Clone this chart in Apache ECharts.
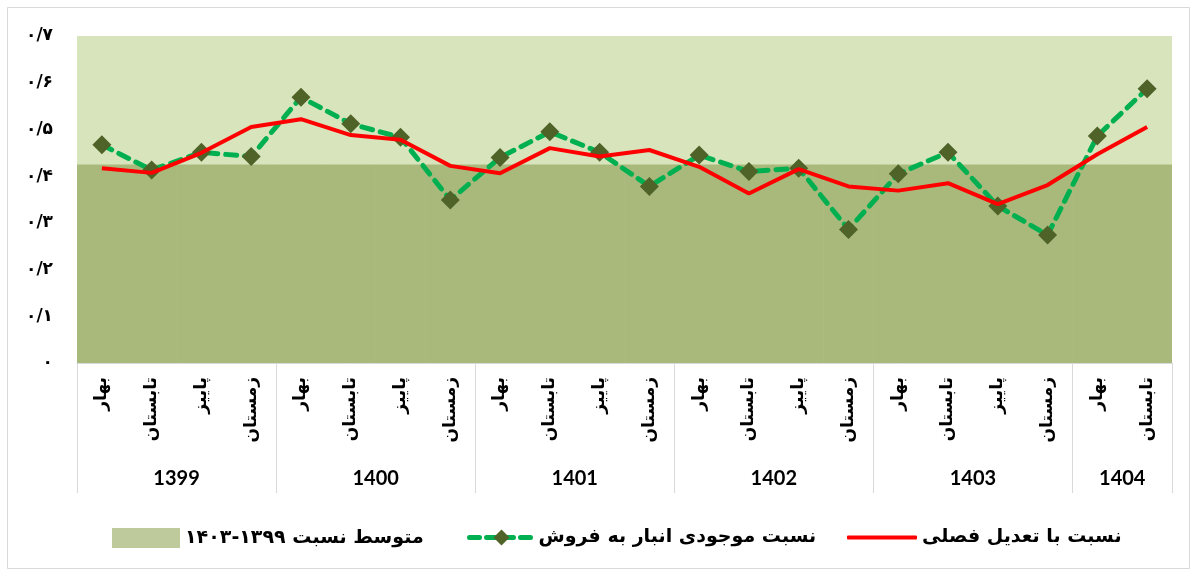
<!DOCTYPE html>
<html>
<head>
<meta charset="utf-8">
<script src="https://cdn.jsdelivr.net/npm/echarts@6/dist/echarts.min.js"></script>
<style>
  html, body { margin: 0; padding: 0; background: #fff; }
  #main { width: 1198px; height: 576px; }
</style>
</head>
<body>
<div id="main"></div>
<script>
// seasons (x axis, level 1) and years (level 2)
var seasons = [
  "بهار", "تابستان", "پاییز", "زمستان",
  "بهار", "تابستان", "پاییز", "زمستان",
  "بهار", "تابستان", "پاییز", "زمستان",
  "بهار", "تابستان", "پاییز", "زمستان",
  "بهار", "تابستان", "پاییز", "زمستان",
  "بهار", "تابستان"
];
var years = ["1399", "1400", "1401", "1402", "1403", "1404"];
var seasonsPerYear = [4, 4, 4, 4, 4, 2];

// نسبت موجودی انبار به فروش
var inventoryRatio = [
  0.467, 0.413, 0.451, 0.442,
  0.569, 0.512, 0.483, 0.349,
  0.440, 0.495, 0.451, 0.378,
  0.445, 0.410, 0.417, 0.286,
  0.405, 0.451, 0.336, 0.274,
  0.486, 0.587
];
// نسبت با تعدیل فصلی
var adjustedRatio = [
  0.417, 0.407, 0.450, 0.505,
  0.522, 0.488, 0.478, 0.422,
  0.406, 0.460, 0.442, 0.456,
  0.420, 0.363, 0.415, 0.378,
  0.369, 0.385, 0.340, 0.381,
  0.447, 0.505
];
// متوسط نسبت ۱۳۹۹-۱۴۰۳
var averageRatio = [
  0.425, 0.425, 0.425, 0.425,
  0.425, 0.425, 0.425, 0.425,
  0.425, 0.425, 0.425, 0.425,
  0.425, 0.425, 0.425, 0.425,
  0.425, 0.425, 0.425, 0.425,
  0.425, 0.425
];
var yTickLabels = ["۰", "۰/۱", "۰/۲", "۰/۳", "۰/۴", "۰/۵", "۰/۶", "۰/۷"];

var nameAvg = "متوسط نسبت ۱۳۹۹-۱۴۰۳";
var nameInv = "نسبت موجودی انبار به فروش";
var nameAdj = "نسبت با تعدیل فصلی";

// year group boundaries and centres on a 0..n value scale
var yearEdges = [0];
var yearCenters = [];
seasonsPerYear.forEach(function (n, i) {
  var start = yearEdges[i];
  yearCenters.push(start + n / 2);
  yearEdges.push(start + n);
});

var faFont = "DejaVu Sans";
var gridLine = "#d9d9d9";
var legendText = { fontFamily: faFont, fontWeight: "bold", fontSize: 19, color: "#000" };

var myChart = echarts.init(document.getElementById("main"));

var option = {
  animation: false,
  backgroundColor: "#fff",
  graphic: [
    {
      type: "rect",
      shape: { x: 7.5, y: 7.5, width: 1182, height: 561 },
      style: { fill: "none", stroke: gridLine, lineWidth: 1 },
      silent: true
    }
  ],
  grid: {
    left: 77,
    right: 26,
    top: 36,
    bottom: 213,
    show: true,
    backgroundColor: "#d8e4bc",
    borderWidth: 0
  },
  legend: [
    {
      data: [{ name: nameAvg, icon: "rect", itemStyle: { color: "#bfca9c" } }],
      left: 107,
      top: 523,
      itemWidth: 68,
      itemHeight: 20,
      selectedMode: false,
      textStyle: legendText
    },
    {
      data: [nameInv],
      left: 462,
      top: 523,
      itemWidth: 64,
      itemHeight: 20,
      selectedMode: false,
      lineStyle: { width: 5, type: [10, 7], cap: "round", color: "#00b050" },
      textStyle: legendText
    },
    {
      data: [{ name: nameAdj, icon: "roundRect", itemStyle: { color: "#ff0000" } }],
      left: 842,
      top: 523,
      itemWidth: 70,
      itemHeight: 4,
      selectedMode: false,
      textStyle: legendText
    }
  ],
  xAxis: [
    {
      type: "category",
      data: seasons,
      position: "bottom",
      boundaryGap: true,
      axisLine: { show: true, lineStyle: { color: gridLine, width: 1 } },
      axisTick: { show: false },
      axisLabel: {
        interval: 0,
        rotate: 90,
        margin: 14,
        fontFamily: faFont,
        fontWeight: "bold",
        fontSize: 17,
        color: "#000"
      },
      splitLine: { show: false }
    },
    {
      type: "value",
      min: 0,
      max: seasons.length,
      position: "bottom",
      axisLine: { show: false },
      axisTick: {
        show: true,
        customValues: yearEdges,
        length: 130,
        lineStyle: { color: gridLine, width: 1 }
      },
      axisLabel: {
        customValues: yearCenters,
        margin: 106,
        fontFamily: "Lato",
        fontWeight: "bold",
        fontSize: 20,
        color: "#000",
        formatter: function (v) {
          var i = yearCenters.indexOf(v);
          return i >= 0 ? years[i] : "";
        }
      },
      splitLine: { show: false }
    }
  ],
  yAxis: {
    type: "value",
    min: 0,
    max: 0.7,
    interval: 0.1,
    axisLine: { show: false },
    axisTick: { show: false },
    splitLine: { show: false },
    axisLabel: {
      margin: 24,
      fontFamily: faFont,
      fontWeight: "bold",
      fontSize: 17,
      color: "#000",
      formatter: function (v) {
        return yTickLabels[Math.round(v * 10)];
      }
    }
  },
  series: [
    {
      name: nameAvg,
      type: "bar",
      xAxisIndex: 0,
      data: averageRatio,
      barWidth: "101%",
      barCategoryGap: "0%",
      itemStyle: { color: "#a8b97b", borderWidth: 0 },
      silent: true,
      z: 1
    },
    {
      name: nameInv,
      type: "line",
      xAxisIndex: 0,
      data: inventoryRatio,
      symbol: "diamond",
      symbolSize: 19,
      itemStyle: { color: "#4f6228" },
      lineStyle: { color: "#00b050", width: 5, type: [11, 8], cap: "round" },
      z: 3
    },
    {
      name: nameAdj,
      type: "line",
      xAxisIndex: 0,
      data: adjustedRatio,
      symbol: "none",
      itemStyle: { color: "#ff0000" },
      lineStyle: { color: "#ff0000", width: 4 },
      z: 4
    }
  ]
};

myChart.setOption(option);
</script>
</body>
</html>
